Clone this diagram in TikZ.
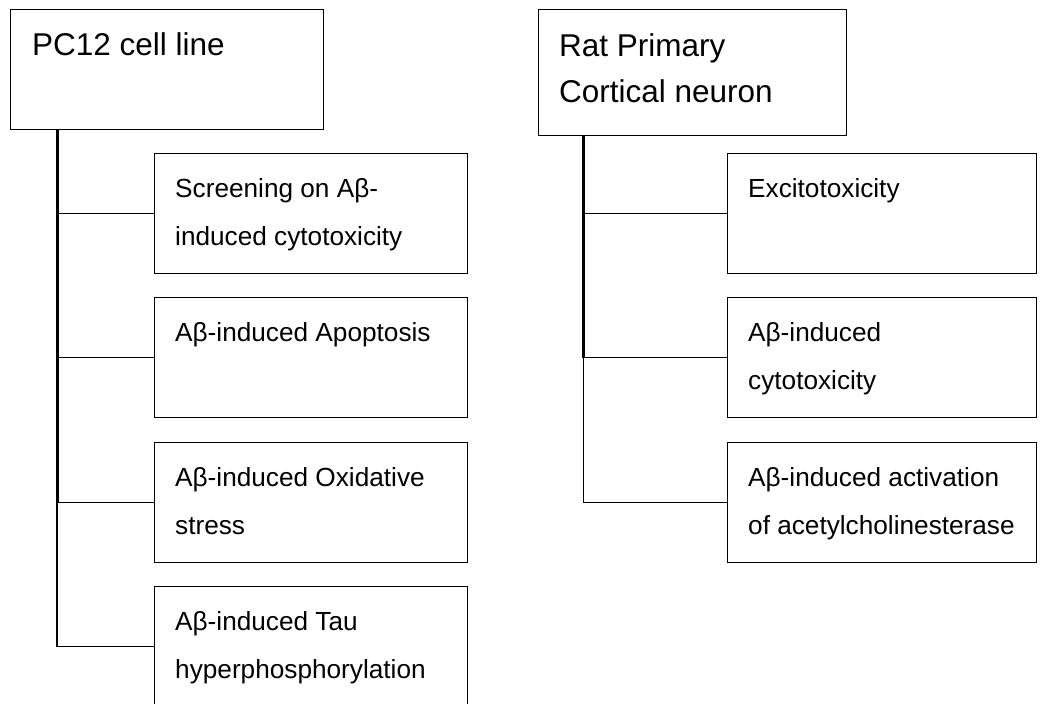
\documentclass[tikz,border=0pt]{standalone}
\usepackage{fontspec}
\setmainfont{Liberation Sans}
\begin{document}
\begin{tikzpicture}[x=1pt,y=-1pt,
  box/.style={draw, line width=1.3pt, anchor=north west, inner sep=0pt, minimum height=120pt},
  lbox/.style={box, minimum width=313pt},
  rbox/.style={box, minimum width=309pt},
  txt/.style={anchor=base west, inner sep=0pt, font=\fontsize{26.2}{30}\selectfont},
  ttl/.style={anchor=base west, inner sep=0pt, font=\fontsize{31.5}{36}\selectfont},
  trunk/.style={line width=3pt},
  branch/.style={line width=1.3pt}]
\useasboundingbox (0,0) rectangle (1050,704);
\fill[white] (0,0) rectangle (1050,704);

% ---------- left tree ----------
\node[box, minimum width=313pt, minimum height=120pt] (lp) at (10,9) {};
\node[ttl] (lpt) at ([shift={(22,46)}]lp.north west) {PC12 cell line};

\node[lbox] (l1) at (154,153) {};
\node[lbox] (l2) at (154,297) {};
\node[lbox] (l3) at (154,442) {};
\node[lbox] (l4) at (154,586) {};

\node[txt] (l1a) at ([shift={(21,44.5)}]l1.north west) {Screening on Aβ-};
\node[txt] (l1b) at ([shift={(21,92.5)}]l1.north west) {induced cytotoxicity};
\node[txt] (l2a) at ([shift={(21,44.5)}]l2.north west) {Aβ-induced Apoptosis};
\node[txt] (l3a) at ([shift={(21,44.5)}]l3.north west) {Aβ-induced Oxidative};
\node[txt] (l3b) at ([shift={(21,92.5)}]l3.north west) {stress};
\node[txt] (l4a) at ([shift={(21,44.5)}]l4.north west) {Aβ-induced Tau};
\node[txt] (l4b) at ([shift={(21,92.5)}]l4.north west) {hyperphosphorylation};

\coordinate (lroot) at ([xshift=47pt]lp.south west);
\draw[trunk] (lroot) -- (lroot |- l3.west);
\draw[branch] (lroot |- l3.west) -- (lroot |- l4.west) -- (l4.west);
\draw[branch] (lroot |- l1.west) -- (l1.west);
\draw[branch] (lroot |- l2.west) -- (l2.west);
\draw[branch] (lroot |- l3.west) -- (l3.west);

% ---------- right tree ----------
\node[box, minimum width=308pt, minimum height=126pt] (rp) at (538,9) {};
\node[ttl] (rpt1) at ([shift={(21,47.5)}]rp.north west) {Rat Primary};
\node[ttl] (rpt2) at ([shift={(21,93.5)}]rp.north west) {Cortical neuron};

\node[rbox] (r1) at (727,153) {};
\node[rbox] (r2) at (727,297) {};
\node[rbox] (r3) at (727,442) {};

\node[txt] (r1a) at ([shift={(21,44.5)}]r1.north west) {Excitotoxicity};
\node[txt] (r2a) at ([shift={(21,44.5)}]r2.north west) {Aβ-induced};
\node[txt] (r2b) at ([shift={(21,92.5)}]r2.north west) {cytotoxicity};
\node[txt] (r3a) at ([shift={(21,44.5)}]r3.north west) {Aβ-induced activation};
\node[txt] (r3b) at ([shift={(21,92.5)}]r3.north west) {of acetylcholinesterase};

\coordinate (rroot) at ([xshift=45.5pt]rp.south west);
\draw[trunk] (rroot) -- (rroot |- r2.west);
\draw[branch] (rroot |- r2.west) -- (rroot |- r3.west) -- (r3.west);
\draw[branch] (rroot |- r1.west) -- (r1.west);
\draw[branch] (rroot |- r2.west) -- (r2.west);
\end{tikzpicture}
\end{document}
